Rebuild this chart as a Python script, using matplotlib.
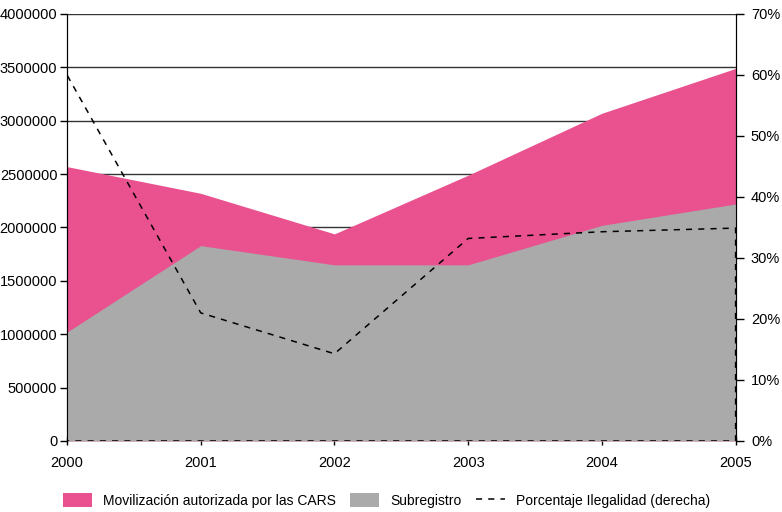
import matplotlib
matplotlib.use("Agg")
import matplotlib.pyplot as plt
from matplotlib.patches import Patch
from matplotlib.lines import Line2D

# Datos
anios = [2000, 2001, 2002, 2003, 2004, 2005]
movilizacion = [2570000, 2320000, 1940000, 2490000, 3070000, 3490000]
subregistro = [1020000, 1830000, 1650000, 1650000, 2020000, 2220000]
ilegalidad = [60.0, 21.0, 14.3, 33.2, 34.3, 34.9]

etiquetas = ["Movilización autorizada por las CARS", "Subregistro",
             "Porcentaje Ilegalidad (derecha)"]
ticks_izq = list(range(0, 4000001, 500000))
ticks_der = list(range(0, 71, 10))

rosa = "#E9518F"
gris = "#AAAAAA"

plt.rcParams['font.family'] = ['Liberation Sans', 'DejaVu Sans']
plt.rcParams['font.size'] = 10

fig = plt.figure(figsize=(7.82, 5.12), dpi=100)
ax = fig.add_axes([0.0857, 0.1387, 0.855, 0.834])

ax.fill_between(anios, movilizacion, color=rosa, lw=0, zorder=2)
ax.fill_between(anios, subregistro, color=gris, lw=0, zorder=3)

ax.set_xlim(2000, 2005)
ax.set_ylim(0, 4000000)
ax.set_yticks(ticks_izq)
ax.set_yticklabels([str(v) for v in ticks_izq])
ax.yaxis.grid(True, color="#333333", lw=1, zorder=1)
ax.set_axisbelow(True)
ax.set_xticks(anios)
ax.tick_params(axis="y", direction="out", length=5, width=1, right=True,
               labelright=False, labelsize=10.5, pad=2)
ax.tick_params(axis="x", direction="inout", length=6, width=1, labelsize=10.5, pad=8)
ax.spines["top"].set_visible(False)
ax.spines["bottom"].set_visible(False)

ax2 = ax.twinx()
ax2.fill_between(anios, ilegalidad, facecolor="none", edgecolor="black",
                 linestyle=(0, (4, 4)), lw=1.1, zorder=4)
ax2.set_ylim(0, 70)
ax2.set_yticks(ticks_der)
ax2.set_yticklabels([f"{v}%" for v in ticks_der])
ax2.tick_params(axis="y", direction="out", length=6, width=1, labelsize=10.5, pad=5)
ax2.spines["top"].set_visible(False)
ax2.spines["bottom"].set_visible(False)

handles = [Patch(facecolor=rosa, edgecolor="none"),
           Patch(facecolor=gris, edgecolor="none"),
           Line2D([], [], color="black", linestyle=(0, (4, 4)), lw=1.1)]
fig.legend(handles, etiquetas, loc="lower left", bbox_to_anchor=(0.07, -0.008),
           ncol=3, frameon=False, fontsize=10, handlelength=2.1, handleheight=1.1,
           columnspacing=1.0, handletextpad=0.8, borderaxespad=0.2)

fig.savefig("out.png", dpi=100)
